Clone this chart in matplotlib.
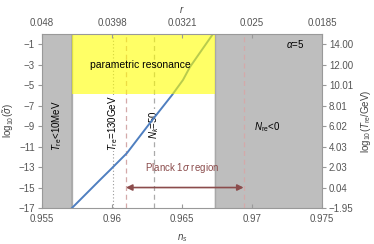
import matplotlib
matplotlib.use("Agg")
import matplotlib.pyplot as plt

plt.rcParams['font.family'] = ['Liberation Sans', 'DejaVu Sans']
plt.rcParams['mathtext.fontset'] = 'custom'
plt.rcParams['mathtext.rm'] = 'Liberation Sans'
plt.rcParams['mathtext.it'] = 'Liberation Sans:italic'

# curve
ns_curve = [0.95714, 0.95914, 0.95986, 0.96107, 0.96271, 0.96429, 0.96507, 0.96557, 0.96721]
log_sigma = [-17.0, -14.26, -13.29, -11.63, -8.70, -5.96, -4.49, -3.22, 0.0]

# regions / lines
ns_low_cut = 0.95714      # T_re < 10 MeV
ns_high_cut = 0.96736     # N_re < 0
res_bottom = -5.9         # parametric resonance lower edge
ns_t130 = 0.9601
ns_nk50 = 0.9630
planck_lo, planck_hi = 0.9610, 0.9694

# axes ticks
x_ticks = [0.955, 0.96, 0.965, 0.97, 0.975]
x_labels = ['0.955', '0.96', '0.965', '0.97', '0.975']
r_labels = ['0.048', '0.0398', '0.0321', '0.025', '0.0185']
y_ticks = [-1, -3, -5, -7, -9, -11, -13, -15, -17]
t_labels = ['14.00', '12.00', '10.01', '8.01', '6.02', '4.03', '2.03', '0.04', '\u22121.95']

tick_col = '#555555'
frame_col = '#999999'
gray = '#bebebe'

fig = plt.figure(figsize=(3.74, 2.44), dpi=100)
ax = fig.add_axes([42/374, 36/244, 280/374, 174/244])
ax.set_xlim(0.955, 0.975)
ax.set_ylim(-17, 0)

# shaded regions
ax.axvspan(0.955, ns_low_cut, color=gray, zorder=1)
ax.axvline(ns_low_cut, color='#a8a8a8', lw=1.2, zorder=1.5)
ax.axvspan(ns_high_cut, 0.975, color=gray, zorder=1)
ax.axvline(ns_high_cut, color='#a8a8a8', lw=1.0, zorder=1.5)

# vertical reference lines
ax.axvline(ns_t130, color='#999999', lw=0.8, ls=(0, (1, 2)), zorder=2)
ax.axvline(ns_nk50, color='#aaaaaa', lw=0.9, ls=(0, (4, 3)), zorder=2)
ax.axvline(planck_lo, color='#d4a9a9', lw=0.9, ls=(0, (4, 3)), zorder=2)
ax.axvline(planck_hi, color='#d4a9a9', lw=0.9, ls=(0, (4, 3)), zorder=2)

# labels on the vertical lines (white backing hides the line behind them)
ax.text(0.95607, -8.9, r'$T_{\rm re}$<10MeV', fontsize=7, ha='center', va='center',
        rotation=90, zorder=5)
ax.text(ns_t130, -8.7, r'$T_{\rm re}$=130GeV', fontsize=7, ha='center', va='center',
        rotation=90, zorder=2.5,
        bbox=dict(facecolor='white', edgecolor='none', pad=0.3))
ax.text(ns_nk50, -8.8, r'$N_k$=50', fontsize=7, ha='center', va='center',
        rotation=90, zorder=2.5,
        bbox=dict(facecolor='white', edgecolor='none', pad=0.3))

# curve
ax.plot(ns_curve, log_sigma, color='#4f7fc0', lw=1.4, zorder=3)

# parametric resonance region (translucent, over curve)
ax.fill_between([ns_low_cut, ns_high_cut], res_bottom, 0, color=(1, 1, 0), alpha=0.6,
                lw=0, zorder=4)

# Planck arrow
ax.annotate('', xy=(planck_lo, -15), xytext=(planck_hi, -15),
            arrowprops=dict(arrowstyle='<|-|>', color='#8b4c4c', lw=1.2,
                            mutation_scale=9, shrinkA=0, shrinkB=0), zorder=5)
ax.text(0.965, -13.1, r'Planck 1$\sigma$ region', color='#8b4c4c', fontsize=7,
        ha='center', va='center', zorder=5)

# annotations
ax.text(0.962, -3.0, 'parametric resonance', fontsize=7.5, ha='center', va='center', zorder=5)
ax.text(0.9731, -1.0, r'$\alpha$=5', fontsize=7, ha='center', va='center', zorder=5)
ax.text(0.97107, -9.1, r'$N_{\rm re}$<0', fontsize=7, ha='center', va='center', zorder=5)

# bottom / left axes
ax.set_xticks(x_ticks)
ax.set_xticklabels(x_labels)
ax.set_yticks(y_ticks)
ax.set_yticklabels([str(v).replace('-', '\u2212') for v in y_ticks])
ax.tick_params(axis='x', direction='in', length=3, color=frame_col, labelcolor=tick_col,
               labelsize=7, pad=4)
ax.tick_params(axis='y', direction='out', length=3, color=frame_col, labelcolor=tick_col,
               labelsize=7, pad=2)
for s in ax.spines.values():
    s.set_color(frame_col)
    s.set_linewidth(0.8)
    s.set_zorder(6)
ax.set_xlabel(r'$n_s$', fontsize=7, color='#444444', labelpad=6)
ax.set_ylabel(r'log$_{10}$($\tilde{\sigma}$)', fontsize=7, color='#444444', labelpad=2)

# top axis (r)
axt = ax.twiny()
axt.set_xlim(ax.get_xlim())
axt.set_xticks(x_ticks)
axt.set_xticklabels(r_labels)
axt.tick_params(axis='x', direction='in', length=3, color=frame_col, labelcolor=tick_col,
                labelsize=7, pad=4)
axt.set_xlabel(r'$r$', fontsize=7, color='#444444', labelpad=4)
for s in axt.spines.values():
    s.set_visible(False)

# right axis (T_re)
axr = ax.twinx()
axr.set_ylim(ax.get_ylim())
axr.set_yticks(y_ticks)
axr.set_yticklabels(t_labels)
axr.tick_params(axis='y', direction='out', length=3, color=frame_col, labelcolor=tick_col,
                labelsize=7, pad=2)
axr.set_ylabel(r'log$_{10}$($T_{\rm re}$/GeV)', fontsize=7, color='#444444',
               rotation=90, labelpad=4)
for s in axr.spines.values():
    s.set_visible(False)

fig.savefig('out.png', dpi=100)
